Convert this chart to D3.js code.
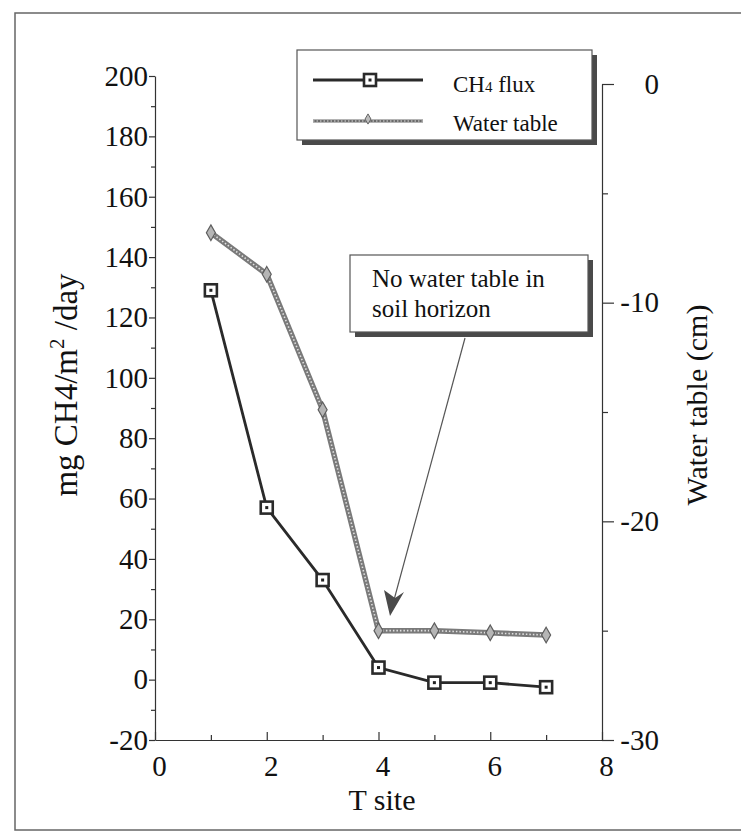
<!DOCTYPE html>
<html>
<head>
<meta charset="utf-8">
<script src="https://cdn.jsdelivr.net/npm/d3@7"></script>
<style>
  body { margin: 0; background: #fff; }
  svg { display: block; }
  text { font-family: "Liberation Serif", "Times New Roman", serif; fill: #111; }
  .axis path, .axis line { stroke: #333; stroke-width: 1.2; }
</style>
</head>
<body>
<div id="chart"></div>
<script>
// values
const sites = [1, 2, 3, 4, 5, 6, 7];
const ch4Flux = [129, 57, 33, 4, -1, -1, -2.5];
const waterTable = [-6.8, -8.7, -14.9, -25.0, -25.0, -25.1, -25.2];
const xTicks = [0, 2, 4, 6, 8];
const leftTicks = [-20, 0, 20, 40, 60, 80, 100, 120, 140, 160, 180, 200];
const rightTicks = [-30, -20, -10, 0];

var W = 741, H = 833;
var plain = function(d) { return String(d); };  // hyphen minus like the scan

var svg = d3.select("#chart").append("svg")
  .attr("width", W)
  .attr("height", H);

// outer frame of the scanned figure
svg.append("rect")
  .attr("x", 15).attr("y", 13)
  .attr("width", 760).attr("height", 817)
  .attr("fill", "none")
  .attr("stroke", "#666")
  .attr("stroke-width", 1.5);

var x = d3.scaleLinear().domain([0, 8]).range([155, 602]);
var yL = d3.scaleLinear().domain([-20, 200]).range([740, 76]);
var yR = d3.scaleLinear().domain([-30, 0]).range([740, 84]);

// minor ticks first
svg.append("g").attr("class", "axis")
  .attr("transform", "translate(155,0)")
  .call(d3.axisLeft(yL).tickValues(d3.range(-10, 200, 20)).tickSize(4).tickFormat(""))
  .select(".domain").remove();
svg.append("g").attr("class", "axis")
  .attr("transform", "translate(602,0)")
  .call(d3.axisRight(yR).tickValues([-25, -15, -5]).tickSize(6).tickFormat(""))
  .select(".domain").remove();
svg.append("g").attr("class", "axis")
  .attr("transform", "translate(0,740)")
  .call(d3.axisBottom(x).tickValues([1, 3, 5, 7]).tickSize(-5).tickFormat(""))
  .select(".domain").remove();

// main axes
var gx = svg.append("g").attr("class", "axis")
  .attr("transform", "translate(0,740)")
  .call(d3.axisBottom(x).tickValues(xTicks).tickFormat(plain).tickSizeInner(-8).tickSizeOuter(0).tickPadding(15));
gx.selectAll("text").attr("font-size", 29).attr("dx", 4);

var gl = svg.append("g").attr("class", "axis")
  .attr("transform", "translate(155,0)")
  .call(d3.axisLeft(yL).tickValues(leftTicks).tickFormat(plain).tickSizeInner(6).tickSizeOuter(0).tickPadding(1));
gl.selectAll("text").attr("font-size", 29);

var gr = svg.append("g").attr("class", "axis")
  .attr("transform", "translate(602,0)")
  .call(d3.axisRight(yR).tickValues(rightTicks).tickFormat(plain).tickSizeInner(12).tickSizeOuter(0));
gr.selectAll("text").attr("font-size", 29).attr("text-anchor", "end").attr("x", 57);

// axis titles
svg.append("text")
  .attr("x", 382).attr("y", 810)
  .attr("text-anchor", "middle")
  .attr("font-size", 30)
  .text("T site");

var lt = svg.append("text")
  .attr("transform", "translate(77,385) rotate(-90)")
  .attr("text-anchor", "middle")
  .attr("font-size", 33);
lt.append("tspan").text("mg CH4/m");
lt.append("tspan").attr("font-size", 21).attr("dy", -13).text("2");
lt.append("tspan").attr("dy", 13).text(" /day");

svg.append("text")
  .attr("transform", "translate(707,405) rotate(-90)")
  .attr("text-anchor", "middle")
  .attr("font-size", 30)
  .text("Water table (cm)");

// water table series (hatched grey line)
var wtPts = sites.map(function(s, i) { return [x(s), yR(waterTable[i])]; });
var wtLine = d3.line()(wtPts);
svg.append("path").attr("d", wtLine)
  .attr("fill", "none").attr("stroke", "#7a7a7a").attr("stroke-width", 5.5)
  .attr("stroke-linejoin", "round");
svg.append("path").attr("d", wtLine)
  .attr("fill", "none").attr("stroke", "#e0e0e0").attr("stroke-width", 1.6)
  .attr("stroke-dasharray", "1.5,2");
svg.selectAll(".wt")
  .data(wtPts)
  .enter().append("path")
  .attr("class", "wt")
  .attr("transform", function(d) { return "translate(" + d[0] + "," + d[1] + ")"; })
  .attr("d", d3.symbol().type(d3.symbolDiamond).size(70))
  .attr("fill", "#b5b5b5").attr("stroke", "#5e5e5e").attr("stroke-width", 1.2);

// CH4 flux series
var chPts = sites.map(function(s, i) { return [x(s), yL(ch4Flux[i])]; });
svg.append("path").attr("d", d3.line()(chPts))
  .attr("fill", "none").attr("stroke", "#2a2a2a").attr("stroke-width", 2.8);

function squareMarker(g, cx, cy) {
  g.append("rect")
    .attr("x", cx - 6).attr("y", cy - 6)
    .attr("width", 12).attr("height", 12)
    .attr("fill", "#fff").attr("stroke", "#2a2a2a").attr("stroke-width", 2.6);
  g.append("rect")
    .attr("x", cx - 1.5).attr("y", cy - 1.5)
    .attr("width", 3).attr("height", 3)
    .attr("fill", "#222");
}
chPts.forEach(function(p) { squareMarker(svg, p[0], p[1]); });

// boxes with drop shadow
function shadowBox(bx, by, bw, bh) {
  svg.append("rect").attr("x", bx + 5).attr("y", by + 5)
    .attr("width", bw).attr("height", bh).attr("fill", "#4a4a4a");
  svg.append("rect").attr("x", bx).attr("y", by)
    .attr("width", bw).attr("height", bh)
    .attr("fill", "#fff").attr("stroke", "#555").attr("stroke-width", 1.2);
}

// legend
shadowBox(297, 50, 295, 90);
svg.append("line").attr("x1", 313).attr("x2", 423).attr("y1", 80).attr("y2", 80)
  .attr("stroke", "#2a2a2a").attr("stroke-width", 2.8);
squareMarker(svg, 370, 80);
var l1 = svg.append("text").attr("x", 453).attr("y", 92).attr("font-size", 23);
l1.append("tspan").text("CH");
l1.append("tspan").attr("font-size", 15).text("4");
l1.append("tspan").text(" flux");

svg.append("line").attr("x1", 313).attr("x2", 423).attr("y1", 121).attr("y2", 121)
  .attr("stroke", "#6a6a6a").attr("stroke-width", 3);
svg.append("line").attr("x1", 313).attr("x2", 423).attr("y1", 121).attr("y2", 121)
  .attr("stroke", "#e0e0e0").attr("stroke-width", 1).attr("stroke-dasharray", "1.5,2");
svg.append("path")
  .attr("transform", "translate(368,119)")
  .attr("d", d3.symbol().type(d3.symbolDiamond).size(30))
  .attr("fill", "#bbb").attr("stroke", "#666");
svg.append("text").attr("x", 453).attr("y", 131).attr("font-size", 23).text("Water table");

// annotation
shadowBox(350, 255, 238, 77);
svg.append("text").attr("x", 372).attr("y", 287).attr("font-size", 25).text("No water table in");
svg.append("text").attr("x", 372).attr("y", 317).attr("font-size", 25).text("soil horizon");

svg.append("line")
  .attr("x1", 465).attr("y1", 338).attr("x2", 394).attr("y2", 600)
  .attr("stroke", "#555").attr("stroke-width", 1.2);
// arrow head, tip at (390,616)
svg.append("path")
  .attr("d", "M390,616 L384,590 L395,598 L404,592 Z")
  .attr("fill", "#4a4a4a");

// same serif face everywhere, axis groups included
svg.selectAll("text")
  .attr("fill", "#111")
  .style("font-family", "'Liberation Serif', 'Times New Roman', serif");
</script>
</body>
</html>
